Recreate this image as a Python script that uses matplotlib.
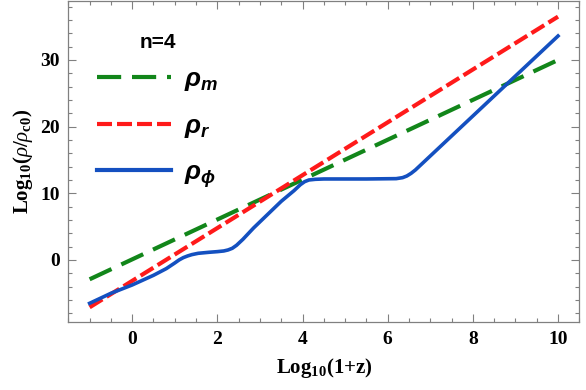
import matplotlib
matplotlib.use("Agg")
import matplotlib.pyplot as plt
from matplotlib.lines import Line2D
from matplotlib.ticker import MultipleLocator

plt.rcParams['mathtext.fontset'] = 'custom'
plt.rcParams['mathtext.rm'] = 'Liberation Serif:bold'
plt.rcParams['mathtext.it'] = 'Liberation Serif:italic'
plt.rcParams['mathtext.bf'] = 'Liberation Serif:bold'
plt.rcParams['mathtext.sf'] = 'Liberation Sans:bold:italic'

# values
x_m = [-1, 10]
rho_m = [-2.9, 30.0]
x_r = [-1, 10]
rho_r = [-7.1, 36.5]
x_phi = [-1, -0.5, 0, 0.5, 0.8, 1.0, 1.1, 1.2, 1.3, 1.4, 1.55, 1.8, 2.0, 2.15, 2.25, 2.35,
         2.45, 2.6, 2.85, 3.5, 3.8, 3.95, 4.05, 4.15, 4.3, 4.5, 5.5, 6.2, 6.35, 6.45, 6.55,
         6.65, 6.8, 7.0, 8.0, 9.0, 10.0]
rho_phi = [-6.5, -5.0, -3.75, -2.3, -1.3, -0.45, 0.0, 0.35, 0.6, 0.8, 1.0, 1.15, 1.25, 1.35,
           1.5, 1.75, 2.2, 3.1, 4.8, 8.8, 10.4, 11.3, 11.75, 12.0, 12.1, 12.15, 12.15, 12.2,
           12.35, 12.6, 13.0, 13.5, 14.4, 15.6, 21.6, 27.6, 33.6]
labels = [r'$\mathsf{\rho_m}$', r'$\mathsf{\rho_r}$', r'$\mathsf{\rho_\phi}$']

green, red, blue = '#12861a', '#ff1a1a', '#1450c0'

fig = plt.figure(figsize=(5.86, 3.9), dpi=100)
ax = fig.add_axes([0.1166, 0.1736, 0.872, 0.823])

ax.plot(x_m, rho_m, color=green, lw=3, dashes=(5.8, 2.6))
ax.plot(x_r, rho_r, color=red, lw=3, dashes=(3.6, 1.2))
ax.plot(x_phi, rho_phi, color=blue, lw=2.6, solid_joinstyle='round')

ax.set_xlim(-1.5, 10.5)
ax.set_ylim(-9.35, 38.8)
ax.xaxis.set_major_locator(MultipleLocator(2))
ax.xaxis.set_minor_locator(MultipleLocator(0.5))
ax.yaxis.set_major_locator(MultipleLocator(10))
ax.yaxis.set_minor_locator(MultipleLocator(2))
ax.tick_params(which='both', direction='in', top=True, right=True, color='#808080', width=0.8)
ax.tick_params(which='major', length=5.5, labelsize=14, pad=6)
ax.tick_params(which='minor', length=3)
for s in ax.spines.values():
    s.set_color('#808080')
    s.set_linewidth(0.9)
for lab in ax.get_xticklabels() + ax.get_yticklabels():
    lab.set_family('Liberation Serif')
    lab.set_fontweight('bold')

ax.set_xlabel(r'Log$_{\rm 10}$(1+z)', family='Liberation Serif', fontweight='bold', fontsize=15, labelpad=6)
ax.set_ylabel(r'Log$_{\rm 10}$($\rho/\rho_{\rm c0}$)', family='Liberation Serif', fontweight='bold', fontsize=15, labelpad=4)

handles = [Line2D([], [], color=green, lw=3, dashes=(5.8, 2.6)),
           Line2D([], [], color=red, lw=3, dashes=(3.6, 1.2)),
           Line2D([], [], color=blue, lw=3)]
leg = ax.legend(handles, labels, loc='upper left', bbox_to_anchor=(0.01, 0.975), frameon=False,
                fontsize=19, handlelength=2.8, handletextpad=0.5, labelspacing=0.75,
                title='n=4', title_fontproperties={'family': 'Liberation Sans', 'weight': 'bold', 'size': 15})
leg._legend_box.sep = 10

fig.savefig('out.png', dpi=100)
